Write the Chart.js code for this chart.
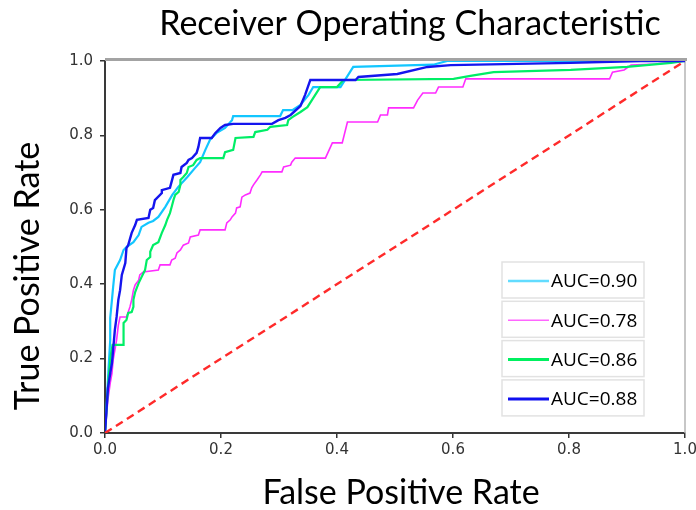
<!DOCTYPE html>
<html>
<head>
<meta charset="utf-8">
<title>Receiver Operating Characteristic</title>
<script src="https://cdn.jsdelivr.net/npm/chart.js@4"></script>
<style>
    html, body { margin: 0; padding: 0; background: #fff; }
    canvas { display: block; }
</style>
</head>
<body>
<canvas id="rocChart" width="696" height="510"></canvas>
<script>
// Texts
const chartTitle = 'Receiver Operating Characteristic';
const xTitle = 'False Positive Rate';
const yTitle = 'True Positive Rate';
const tickLabels = ['0.0', '0.2', '0.4', '0.6', '0.8', '1.0'];
const aucLabels = ['AUC=0.90', 'AUC=0.78', 'AUC=0.86', 'AUC=0.88'];

// Curve 1 (cyan)
const fpr1 = [0, 0.003, 0.006, 0.009, 0.009, 0.012, 0.014, 0.017, 0.026, 0.032, 0.037, 0.049, 0.058, 0.063, 0.075, 0.083, 0.092, 0.104, 0.116, 0.126, 0.142, 0.155, 0.164, 0.173, 0.181, 0.192, 0.207, 0.219, 0.221, 0.302, 0.307, 0.323, 0.337, 0.351, 0.359, 0.406, 0.428, 0.566, 0.59, 1];
const tpr1 = [0, 0.08, 0.17, 0.25, 0.31, 0.358, 0.392, 0.438, 0.465, 0.492, 0.5, 0.513, 0.532, 0.554, 0.565, 0.57, 0.581, 0.608, 0.64, 0.661, 0.688, 0.712, 0.728, 0.761, 0.788, 0.806, 0.82, 0.841, 0.852, 0.852, 0.868, 0.868, 0.882, 0.909, 0.93, 0.93, 0.984, 0.99, 1, 1];

// Curve 2 (magenta)
const fpr2 = [0, 0.005, 0.009, 0.012, 0.014, 0.017, 0.02, 0.023, 0.026, 0.037, 0.043, 0.046, 0.049, 0.052, 0.058, 0.06, 0.066, 0.092, 0.095, 0.112, 0.115, 0.121, 0.124, 0.13, 0.135, 0.144, 0.147, 0.161, 0.164, 0.207, 0.21, 0.216, 0.219, 0.225, 0.227, 0.233, 0.236, 0.242, 0.25, 0.253, 0.256, 0.262, 0.268, 0.271, 0.305, 0.308, 0.32, 0.322, 0.328, 0.38, 0.392, 0.409, 0.418, 0.47, 0.475, 0.487, 0.489, 0.532, 0.539, 0.548, 0.57, 0.575, 0.617, 0.622, 0.87, 0.875, 0.895, 0.907, 0.95, 1];
const tpr2 = [0, 0.09, 0.134, 0.16, 0.196, 0.223, 0.25, 0.29, 0.312, 0.312, 0.339, 0.358, 0.384, 0.398, 0.411, 0.425, 0.433, 0.438, 0.452, 0.452, 0.465, 0.47, 0.484, 0.492, 0.505, 0.511, 0.527, 0.532, 0.546, 0.546, 0.565, 0.573, 0.581, 0.591, 0.605, 0.608, 0.634, 0.64, 0.645, 0.659, 0.667, 0.68, 0.694, 0.702, 0.702, 0.715, 0.72, 0.728, 0.739, 0.739, 0.78, 0.78, 0.836, 0.836, 0.855, 0.855, 0.874, 0.874, 0.895, 0.914, 0.914, 0.93, 0.93, 0.952, 0.952, 0.97, 0.976, 0.989, 0.992, 1];

// Curve 3 (green)
const fpr3 = [0, 0.003, 0.006, 0.01, 0.013, 0.032, 0.032, 0.037, 0.04, 0.046, 0.049, 0.049, 0.052, 0.058, 0.063, 0.069, 0.072, 0.078, 0.078, 0.083, 0.092, 0.098, 0.104, 0.107, 0.112, 0.115, 0.118, 0.121, 0.127, 0.13, 0.13, 0.135, 0.141, 0.144, 0.152, 0.158, 0.164, 0.204, 0.207, 0.221, 0.225, 0.256, 0.259, 0.28, 0.285, 0.314, 0.316, 0.323, 0.337, 0.349, 0.371, 0.4, 0.411, 0.601, 0.63, 0.67, 0.803, 0.9, 0.976, 1];
const tpr3 = [0, 0.07, 0.142, 0.21, 0.237, 0.237, 0.296, 0.304, 0.323, 0.325, 0.339, 0.358, 0.379, 0.403, 0.419, 0.438, 0.465, 0.473, 0.487, 0.505, 0.513, 0.538, 0.559, 0.573, 0.591, 0.608, 0.626, 0.64, 0.648, 0.667, 0.68, 0.688, 0.699, 0.715, 0.72, 0.734, 0.739, 0.739, 0.755, 0.761, 0.793, 0.796, 0.809, 0.815, 0.823, 0.828, 0.841, 0.849, 0.863, 0.876, 0.93, 0.93, 0.949, 0.952, 0.96, 0.97, 0.976, 0.984, 0.995, 1];

// Curve 4 (blue)
const fpr4 = [0, 0.005, 0.01, 0.012, 0.014, 0.017, 0.02, 0.023, 0.026, 0.029, 0.035, 0.037, 0.04, 0.046, 0.052, 0.055, 0.075, 0.078, 0.083, 0.086, 0.098, 0.098, 0.112, 0.118, 0.13, 0.132, 0.141, 0.144, 0.15, 0.158, 0.161, 0.164, 0.184, 0.19, 0.199, 0.207, 0.221, 0.288, 0.299, 0.311, 0.32, 0.337, 0.345, 0.354, 0.432, 0.437, 0.504, 0.556, 0.596, 0.803, 0.924, 1];
const tpr4 = [0, 0.12, 0.17, 0.188, 0.223, 0.277, 0.312, 0.358, 0.384, 0.425, 0.457, 0.497, 0.505, 0.538, 0.559, 0.573, 0.578, 0.6, 0.605, 0.626, 0.645, 0.653, 0.659, 0.694, 0.699, 0.715, 0.726, 0.734, 0.739, 0.753, 0.769, 0.793, 0.793, 0.806, 0.82, 0.828, 0.831, 0.831, 0.841, 0.847, 0.855, 0.879, 0.909, 0.949, 0.949, 0.957, 0.965, 0.984, 0.989, 0.995, 1, 1];

// Chance line
const fprChance = [0, 1];
const tprChance = [0, 1];

function toPoints(xs, ys) {
    return xs.map((x, i) => ({ x: x, y: ys[i] }));
}

// Titles, top/right frame and boxed legend
const rocDecor = {
    id: 'rocDecor',
    beforeDatasetsDraw(chart) {
        const { ctx, chartArea: ca } = chart;
        ctx.save();
        ctx.strokeStyle = '#a3a3a3';
        ctx.lineWidth = 3;
        ctx.beginPath();
        ctx.moveTo(ca.left, ca.top - 1.5);
        ctx.lineTo(ca.right + 2, ca.top - 1.5);
        ctx.stroke();
        ctx.strokeStyle = '#b5b5b5';
        ctx.lineWidth = 1.5;
        ctx.beginPath();
        ctx.moveTo(ca.right, ca.top);
        ctx.lineTo(ca.right, ca.bottom);
        ctx.stroke();
        ctx.restore();
    },
    afterDraw(chart) {
        const { ctx, chartArea: ca } = chart;
        ctx.save();
        ctx.fillStyle = '#000';
        ctx.font = '34px Lato';
        ctx.textAlign = 'center';
        ctx.textBaseline = 'alphabetic';
        ctx.fillText(chartTitle, (ca.left + ca.right) / 2 + 15, 35);
        ctx.fillText(xTitle, (ca.left + ca.right) / 2 + 6, ca.bottom + 71);
        ctx.save();
        ctx.translate(39, (ca.top + ca.bottom) / 2 + 29);
        ctx.rotate(-Math.PI / 2);
        ctx.fillText(yTitle, 0, 0);
        ctx.restore();

        // legend boxes
        const boxLeft = ca.right - 183;
        const boxW = 142;
        const boxH = 36;
        const firstTop = ca.bottom - 171;
        const step = 39.3;
        ctx.font = '19px "Open Sans"';
        ctx.textAlign = 'left';
        ctx.textBaseline = 'middle';
        chart.data.datasets.forEach(ds => {
            if (!ds.auc) return;
            const top = firstTop + ds.legendIndex * step;
            ctx.fillStyle = '#fff';
            ctx.fillRect(boxLeft, top, boxW, boxH);
            ctx.strokeStyle = '#e2e2e2';
            ctx.lineWidth = 1.5;
            ctx.strokeRect(boxLeft, top, boxW, boxH);
            ctx.strokeStyle = ds.legendColor;
            ctx.lineWidth = ds.legendWidth;
            ctx.beginPath();
            ctx.moveTo(boxLeft + 6, top + 19);
            ctx.lineTo(boxLeft + 47, top + 19);
            ctx.stroke();
            ctx.fillStyle = '#000';
            ctx.fillText(ds.label, boxLeft + 49, top + 20);
        });
        ctx.restore();
    }
};

const tickFont = { family: 'DejaVu Sans', size: 15 };

new Chart(document.getElementById('rocChart'), {
    type: 'line',
    data: {
        datasets: [
            {
                label: aucLabels[0], auc: true, legendIndex: 0,
                data: toPoints(fpr1, tpr1),
                borderColor: '#12c6ff', legendColor: '#62dcff', legendWidth: 2.5,
                borderWidth: 2.2, order: 5
            },
            {
                label: aucLabels[1], auc: true, legendIndex: 1,
                data: toPoints(fpr2, tpr2),
                borderColor: '#ff2cff', legendColor: '#ff66ff', legendWidth: 1.5,
                borderWidth: 1.6, order: 4
            },
            {
                label: aucLabels[2], auc: true, legendIndex: 2,
                data: toPoints(fpr3, tpr3),
                borderColor: '#00ee66', legendColor: '#00f060', legendWidth: 3,
                borderWidth: 2.2, order: 3
            },
            {
                label: aucLabels[3], auc: true, legendIndex: 3,
                data: toPoints(fpr4, tpr4),
                borderColor: '#1515ee', legendColor: '#1010f0', legendWidth: 3,
                borderWidth: 2.4, order: 2
            },
            {
                label: 'chance',
                data: toPoints(fprChance, tprChance),
                borderColor: '#ff2a2a',
                borderWidth: 2.4,
                borderDash: [8, 5],
                order: 1
            }
        ]
    },
    options: {
        responsive: false,
        animation: false,
        devicePixelRatio: 1,
        layout: { padding: { top: 61, left: 0, right: 0, bottom: 0 } },
        elements: {
            point: { radius: 0, hoverRadius: 0 },
            line: { tension: 0, fill: false }
        },
        scales: {
            x: {
                type: 'linear',
                min: 0,
                max: 1,
                ticks: {
                    stepSize: 0.2,
                    padding: 3,
                    color: '#333',
                    font: tickFont,
                    maxRotation: 0,
                    autoSkip: false,
                    callback: v => tickLabels[Math.round(v * 5)]
                },
                grid: { drawOnChartArea: false, drawTicks: true, tickLength: 5, color: '#333', lineWidth: 1.5 },
                border: { display: true, color: '#3a3a3a', width: 2 },
                afterFit(scale) {
                    scale.height = 77;
                    scale.paddingLeft = 0;
                    scale.paddingRight = 11;
                }
            },
            y: {
                type: 'linear',
                min: 0,
                max: 1,
                ticks: {
                    stepSize: 0.2,
                    padding: 7,
                    color: '#333',
                    font: tickFont,
                    callback: v => tickLabels[Math.round(v * 5)]
                },
                grid: { drawOnChartArea: false, drawTicks: true, tickLength: 5, color: '#333', lineWidth: 1.5 },
                border: { display: true, color: '#3a3a3a', width: 2 },
                afterFit(scale) {
                    scale.width = 105;
                    scale.paddingTop = 0;
                    scale.paddingBottom = 0;
                }
            }
        },
        plugins: {
            legend: { display: false },
            tooltip: { enabled: false },
            title: { display: false }
        }
    },
    plugins: [rocDecor]
});
</script>
</body>
</html>
